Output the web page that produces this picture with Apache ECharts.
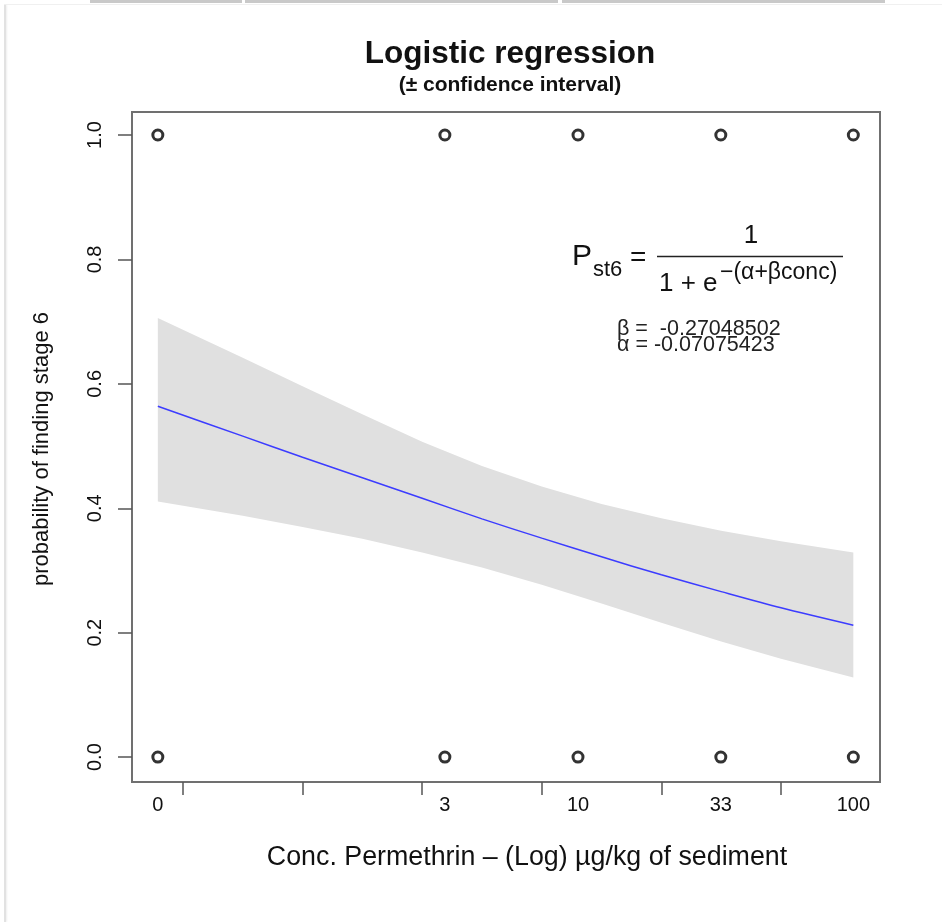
<!DOCTYPE html>
<html>
<head>
<meta charset="utf-8">
<script src="https://cdn.jsdelivr.net/npm/echarts@6/dist/echarts.min.js"></script>
<style>
  html, body { margin: 0; padding: 0; background: #fff; }
  #wrap { position: relative; width: 942px; height: 922px; overflow: hidden; }
  .bar { position: absolute; top: 0; height: 3px; background: #c9c9c9; }
  #frameTop { position: absolute; left: 4px; top: 4px; width: 938px; height: 1px; background: #f0f0f0; }
  #frameLeft { position: absolute; left: 4px; top: 5px; width: 2px; height: 917px; background: #e2e2e2; box-shadow: 1px 0 2px #eee; }
  #chart { position: absolute; left: 0; top: 0; width: 942px; height: 922px; }
</style>
</head>
<body>
<div id="wrap">
  <div class="bar" style="left:90px;width:152px"></div>
  <div class="bar" style="left:245px;width:313px"></div>
  <div class="bar" style="left:562px;width:323px"></div>
  <div id="frameTop"></div>
  <div id="frameLeft"></div>
  <div id="chart"></div>
</div>
<script>
// ---- data (x in natural-log units of concentration) ----
const xLabelText = ['0', '3', '10', '33', '100'];
const xLabelPos  = [-1.21, 1.19, 2.303, 3.497, 4.605];
const xTicks     = [-1, 0, 1, 2, 3, 4];
const yTicks     = [0, 0.2, 0.4, 0.6, 0.8, 1.0];

// observed outcomes (open circles)
const obsX = [-1.21, 1.19, 2.303, 3.497, 4.605, -1.21, 1.19, 2.303, 3.497, 4.605];
const obsY = [1, 1, 1, 1, 1, 0, 0, 0, 0, 0];

// fitted curve and confidence band
const curveX = [-1.21, -0.5, 0, 0.5, 1, 1.5, 2, 2.5, 3, 3.5, 4, 4.605];
const fitP   = [0.564, 0.516, 0.482, 0.449, 0.416, 0.383, 0.352, 0.322, 0.293, 0.266, 0.240, 0.212];
const upperP = [0.706, 0.642, 0.596, 0.551, 0.507, 0.468, 0.435, 0.407, 0.384, 0.364, 0.347, 0.329];
const lowerP = [0.411, 0.388, 0.370, 0.351, 0.329, 0.305, 0.277, 0.247, 0.216, 0.186, 0.158, 0.128];

const FONT = '"Liberation Sans", Arial, Helvetica, sans-serif';

const chart = echarts.init(document.getElementById('chart'), null, { renderer: 'canvas' });

const bandRows = curveX.map((x, i) => [x, lowerP[i], upperP[i]]);
const fitData  = curveX.map((x, i) => [x, fitP[i]]);
const obsData  = obsX.map((x, i) => [x, obsY[i]]);

const option = {
  animation: false,
  textStyle: { fontFamily: FONT },
  title: [
    { text: 'Logistic regression', left: 505, top: 33, textAlign: 'center',
      textStyle: { fontFamily: FONT, fontSize: 31.5, fontWeight: 'bold', color: '#111' } },
    { text: '(\u00B1 confidence interval)', left: 505, top: 70, textAlign: 'center',
      textStyle: { fontFamily: FONT, fontSize: 21, fontWeight: 'bold', color: '#111' } }
  ],
  grid: { left: 132, top: 112, width: 748, height: 670, show: true,
          borderColor: '#707070', borderWidth: 2, backgroundColor: 'transparent' },
  xAxis: {
    type: 'value', min: -1.426, max: 4.828,
    splitLine: { show: false },
    axisLine: { show: false, onZero: false },
    axisTick: { show: true, customValues: xTicks, length: 13, lineStyle: { color: '#555', width: 1.5 } },
    axisLabel: {
      customValues: xLabelPos, margin: 13, fontSize: 20, color: '#111', fontFamily: FONT,
      formatter: v => { const i = xLabelPos.indexOf(v); return i >= 0 ? xLabelText[i] : ''; }
    }
  },
  yAxis: {
    type: 'value', min: -0.04, max: 1.037,
    splitLine: { show: false },
    axisLine: { show: false, onZero: false },
    axisTick: { show: true, customValues: yTicks, length: 14, lineStyle: { color: '#555', width: 1.5 } },
    axisLabel: {
      customValues: yTicks, rotate: 90, margin: 27, fontSize: 20, color: '#111', fontFamily: FONT,
      formatter: v => v.toFixed(1)
    }
  },
  series: [
    { type: 'custom', name: 'band', data: [0], silent: true, z: 1,
      renderItem: (params, api) => {
        const pts = [];
        bandRows.forEach(r => pts.push(api.coord([r[0], r[2]])));
        for (let i = bandRows.length - 1; i >= 0; i--) pts.push(api.coord([bandRows[i][0], bandRows[i][1]]));
        return { type: 'polygon', shape: { points: pts, smooth: 0 }, style: { fill: '#e0e0e0', stroke: null } };
      } },
    { type: 'line', name: 'fit', data: fitData, symbol: 'none', smooth: 0.3,
      lineStyle: { color: '#3c3cff', width: 1.5 }, z: 3 },
    { type: 'scatter', name: 'obs', data: obsData, symbol: 'circle', symbolSize: 10,
      itemStyle: { color: '#fff', borderColor: '#000', borderWidth: 3 }, z: 4 }
  ],
  graphic: { elements: [
    { type: 'text', x: 42, y: 449, rotation: Math.PI / 2, z: 100,
      style: { text: 'probability of finding stage 6', fontFamily: FONT, fontSize: 22, fill: '#111',
               textAlign: 'center', textVerticalAlign: 'middle' } },
    { type: 'text', x: 527, y: 858, z: 100,
      style: { text: 'Conc. Permethrin \u2013 (Log) \u00B5g/kg of sediment', fontFamily: FONT, fontSize: 26.8, fill: '#111',
               textAlign: 'center', textVerticalAlign: 'middle' } },
    // formula
    { type: 'text', x: 572, y: 257, z: 100, style: { text: 'P', fontFamily: FONT, fontSize: 30, fill: '#111', textAlign: 'left', textVerticalAlign: 'middle' } },
    { type: 'text', x: 593, y: 270, z: 100, style: { text: 'st6', fontFamily: FONT, fontSize: 22, fill: '#111', textAlign: 'left', textVerticalAlign: 'middle' } },
    { type: 'text', x: 630, y: 258, z: 100, style: { text: '=', fontFamily: FONT, fontSize: 28, fill: '#111', textAlign: 'left', textVerticalAlign: 'middle' } },
    { type: 'line', z: 100, shape: { x1: 657, y1: 256.5, x2: 843, y2: 256.5 }, style: { stroke: '#222', lineWidth: 1.5 } },
    { type: 'text', x: 751, y: 236, z: 100, style: { text: '1', fontFamily: FONT, fontSize: 26, fill: '#111', textAlign: 'center', textVerticalAlign: 'middle' } },
    { type: 'text', x: 659, y: 284, z: 100, style: { text: '1 + e', fontFamily: FONT, fontSize: 26, fill: '#111', textAlign: 'left', textVerticalAlign: 'middle' } },
    { type: 'text', x: 720, y: 273, z: 100, style: { text: '\u2212(\u03B1+\u03B2conc)', fontFamily: FONT, fontSize: 23, fill: '#111', textAlign: 'left', textVerticalAlign: 'middle' } },
    { type: 'text', x: 617, y: 329, z: 100, style: { text: '\u03B2 =  -0.27048502', fontFamily: FONT, fontSize: 21.5, fill: '#222', textAlign: 'left', textVerticalAlign: 'middle' } },
    { type: 'text', x: 617, y: 345, z: 100, style: { text: '\u03B1 = -0.07075423', fontFamily: FONT, fontSize: 21.5, fill: '#222', textAlign: 'left', textVerticalAlign: 'middle' } }
  ] }
};
chart.setOption(option);
</script>
</body>
</html>
